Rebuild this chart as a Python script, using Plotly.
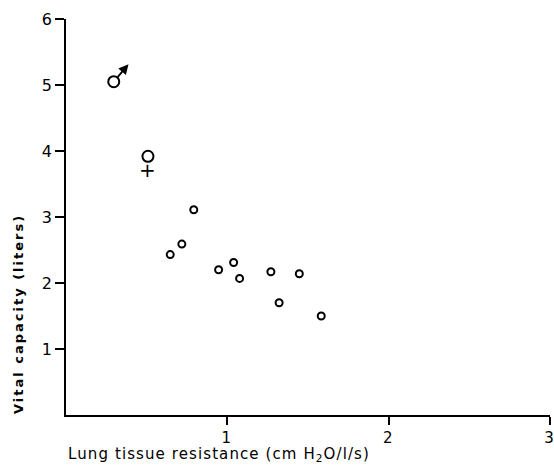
import plotly.graph_objects as go

# Data
resistance = [0.646, 0.718, 0.792, 0.946, 1.039, 1.076, 1.270, 1.321, 1.446, 1.582]
vital_capacity = [2.43, 2.59, 3.11, 2.20, 2.31, 2.07, 2.17, 1.70, 2.14, 1.50]

male_x, male_y = [0.296], [5.05]
female_x, female_y = [0.508], [3.92]

x_ticks = [1, 2, 3]
y_ticks = [1, 2, 3, 4, 5, 6]

fig = go.Figure()

fig.add_trace(go.Scatter(
    x=resistance, y=vital_capacity, mode="markers",
    marker=dict(symbol="circle-open", size=7, color="black", line=dict(width=2, color="black")),
    showlegend=False, hoverinfo="skip"))

fig.add_trace(go.Scatter(
    x=male_x + female_x, y=male_y + female_y, mode="markers",
    marker=dict(symbol="circle-open", size=11, color="black", line=dict(width=2, color="black")),
    showlegend=False, hoverinfo="skip"))

# Male arrow
fig.add_annotation(
    x=male_x[0], y=male_y[0], xref="x", yref="y", text="",
    showarrow=True, arrowside="start", startarrowhead=2, startarrowsize=1.1,
    arrowwidth=1.8, arrowcolor="black", ax=16, ay=-19, standoff=6)

# Female cross
fig.add_annotation(
    x=female_x[0], y=female_y[0], xref="x", yref="y", text="+",
    showarrow=False, yshift=-14,
    font=dict(family="DejaVu Sans", size=20, color="black"))

# X axis title (left aligned)
fig.add_annotation(
    x=0, y=-0.101, xref="paper", yref="paper", xanchor="left", yanchor="middle",
    text='<span style="letter-spacing:1.1px">Lung tissue resistance (cm H<sub>2</sub>O/l/s)</span>',
    showarrow=False,
    font=dict(family="DejaVu Sans", size=15, color="black"))

# Y axis title
fig.add_annotation(
    x=-0.0992, y=0.255, xref="paper", yref="paper", xanchor="center", yanchor="middle",
    textangle=-90,
    text='<span style="letter-spacing:2px"><b>Vital capacity (liters)</b></span>',
    showarrow=False,
    font=dict(family="DejaVu Sans", size=13, color="black"))

fig.update_layout(
    width=554, height=466,
    margin=dict(l=66, r=4, t=19, b=51, autoexpand=False),
    paper_bgcolor="white", plot_bgcolor="white",
    xaxis=dict(range=[0, 3], tickvals=x_ticks, ticktext=[str(v) for v in x_ticks],
               automargin=False, ticklabeloverflow="allow", ticklabelshift=-1,
               showgrid=False, zeroline=False, showline=True, linecolor="black", linewidth=1.5,
               ticks="outside", ticklen=8, tickwidth=1.5, tickcolor="black",
               tickfont=dict(family="DejaVu Sans", size=15, color="black")),
    yaxis=dict(range=[0, 6], tickvals=y_ticks, ticktext=[str(v) for v in y_ticks],
               automargin=False,
               showgrid=False, zeroline=False, showline=True, linecolor="black", linewidth=1.5,
               ticks="outside", ticklen=9, tickwidth=1.5, tickcolor="black",
               tickfont=dict(family="DejaVu Sans", size=16, color="black")),
)

fig.write_html("out.html",
               config={"displayModeBar": False},
               post_script="document.body.style.margin='0px';document.body.style.overflow='hidden';")
